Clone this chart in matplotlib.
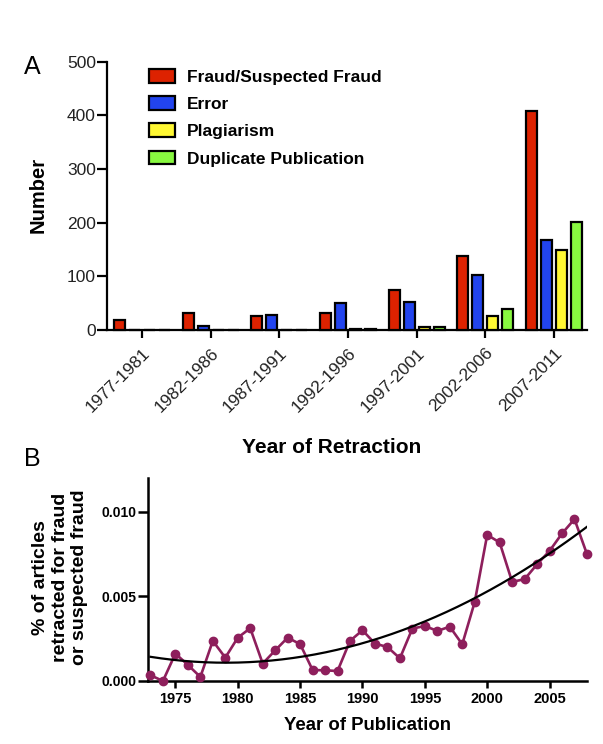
import numpy as np
import matplotlib
matplotlib.use("Agg")
import matplotlib.pyplot as plt

plt.rcParams['font.family'] = ['Liberation Sans', 'DejaVu Sans']

# --- Panel A: retractions by reason ---
periodos = ['1977-1981', '1982-1986', '1987-1991', '1992-1996',
            '1997-2001', '2002-2006', '2007-2011']
fraude = [19, 31, 26, 31, 75, 138, 408]
error = [0, 8, 28, 51, 53, 103, 168]
plagio = [0, 0, 0, 2, 6, 26, 149]
duplicado = [0, 0, 0, 2, 5, 40, 202]
series = ['Fraud/Suspected Fraud', 'Error', 'Plagiarism', 'Duplicate Publication']
colores = ['#DD2200', '#2244EE', '#FFF833', '#88F840']

# --- Panel B: % retracted for fraud by publication year ---
anios = list(range(1973, 2009))
porcentaje = [0.00034, 0.0, 0.00162, 0.00095, 0.00024, 0.00237, 0.00138,
              0.00256, 0.00312, 0.00103, 0.00181, 0.00256, 0.00218, 0.00065,
              0.00063, 0.00059, 0.00237, 0.00300, 0.00221, 0.00201, 0.00134,
              0.00310, 0.00325, 0.00296, 0.00321, 0.00217, 0.00467, 0.00864,
              0.00819, 0.00586, 0.00602, 0.00690, 0.00769, 0.00872, 0.00957,
              0.00750]

fig = plt.figure(figsize=(6.03, 7.44), dpi=100)

# ---------------- A ----------------
axA = fig.add_axes([0.1775, 0.5565, 0.796, 0.3605])
x = np.arange(len(periodos))
paso = 0.218
ancho = 0.16
for k, (vals, nombre, col) in enumerate(zip([fraude, error, plagio, duplicado], series, colores)):
    axA.bar(x + (k - 1.5) * paso, vals, width=ancho, color=col, edgecolor='black',
            linewidth=1.6, label=nombre, clip_on=False, zorder=3)

axA.set_xlim(-0.51, 6.48)
axA.set_ylim(0, 500)
axA.set_yticks([0, 100, 200, 300, 400, 500])
axA.set_xticks(x)
axA.set_xticklabels(periodos, rotation=45, ha='right', rotation_mode='anchor')
for s in ['top', 'right']:
    axA.spines[s].set_visible(False)
for s in ['left', 'bottom']:
    axA.spines[s].set_linewidth(1.6)
axA.tick_params(axis='y', length=7, width=1.6, labelsize=12.5, labelcolor='#222222', pad=1)
axA.tick_params(axis='x', length=6, width=1.6, labelsize=12.5, labelcolor='#222222', pad=5)
axA.set_ylabel('Number', fontsize=14.5, fontweight='bold', va='center')
axA.yaxis.set_label_coords(-0.144, 0.504)
axA.set_xlabel('Year of Retraction', fontsize=15, fontweight='bold', va='center')
axA.xaxis.set_label_coords(0.468, -0.44)

leg = axA.legend(loc='upper left', bbox_to_anchor=(0.0875, 0.974), frameon=False,
                 fontsize=12.5, handlelength=1.5, handleheight=0.86,
                 handletextpad=0.7, labelspacing=0.65, borderpad=0, borderaxespad=0)
for t in leg.get_texts():
    t.set_fontweight('bold')

fig.text(32 / 603, 1 - 67 / 744, 'A', fontsize=18, ha='center', va='center')

# ---------------- B ----------------
axB = fig.add_axes([0.2454, 0.0847, 0.728, 0.2728])
axB.plot(anios, porcentaje, color='#8E1F5C', linewidth=1.9, marker='o',
         markersize=6, clip_on=False, zorder=3)

# curva de ajuste (polinomio de grado 2 sobre los datos)
coef = np.polyfit(anios, porcentaje, 2)
xs = np.linspace(1973, 2008, 200)
axB.plot(xs, np.polyval(coef, xs), color='black', linewidth=1.6, zorder=4)

axB.set_xlim(1972.8, 2008)
axB.set_ylim(0, 0.012)
axB.set_xticks([1975, 1980, 1985, 1990, 1995, 2000, 2005])
axB.set_yticks([0.0, 0.005, 0.010])
axB.set_yticklabels(['0.000', '0.005', '0.010'])
for s in ['top', 'right']:
    axB.spines[s].set_visible(False)
for s in ['left', 'bottom']:
    axB.spines[s].set_linewidth(1.8)
axB.tick_params(axis='y', length=7, width=1.8, labelsize=10, pad=1)
axB.tick_params(axis='x', length=5, width=1.8, labelsize=10.5, pad=3)
for lab in axB.get_xticklabels() + axB.get_yticklabels():
    lab.set_fontweight('bold')
axB.set_ylabel('% of articles\nretracted for fraud\nor suspected fraud',
               fontsize=14, fontweight='bold', va='center', ha='center',
               multialignment='center')
axB.yaxis.set_label_coords(-0.2, 0.509)
axB.set_xlabel('Year of Publication', fontsize=13.4, fontweight='bold', va='center')
axB.xaxis.set_label_coords(0.5, -0.217)

fig.text(32 / 603, 1 - 459 / 744, 'B', fontsize=18, ha='center', va='center')

fig.savefig('out.png', dpi=100)
